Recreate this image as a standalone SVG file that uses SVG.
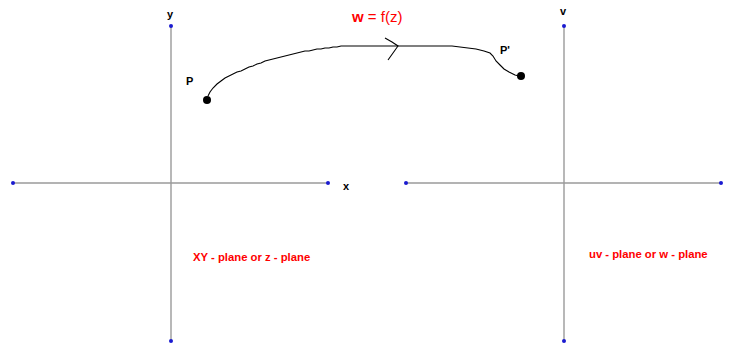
<svg xmlns="http://www.w3.org/2000/svg" width="729" height="344" viewBox="0 0 729 344">
<style>
.axis{stroke:#9a9a9a;stroke-width:1.4;fill:none}
.end{fill:#1a1ad0}
.lbl{font-family:"Liberation Sans",Arial,sans-serif;font-weight:bold;font-size:11px;fill:#000}
.red{font-family:"Liberation Sans",Arial,sans-serif;font-weight:bold;font-size:11.3px;fill:#ff0000}
.curve{stroke:#000;stroke-width:1.1;fill:none}
</style>
<rect width="729" height="344" fill="#fff"/>
<g id="z-plane">
<line class="axis" x1="13" y1="183" x2="328" y2="183"/>
<line class="axis" x1="171" y1="26" x2="171" y2="341"/>
<circle class="end" cx="13" cy="183" r="2"/>
<circle class="end" cx="328" cy="183" r="2"/>
<circle class="end" cx="171" cy="26" r="2"/>
<circle class="end" cx="171" cy="341" r="2"/>
<text class="lbl" x="167" y="18">y</text>
<text class="lbl" x="343" y="190">x</text>
<text class="red" x="193" y="261">XY - plane or z - plane</text>
</g>
<g id="w-plane">
<line class="axis" x1="406" y1="183" x2="721" y2="183"/>
<line class="axis" x1="564" y1="26" x2="564" y2="341"/>
<circle class="end" cx="406" cy="183" r="2"/>
<circle class="end" cx="721" cy="183" r="2"/>
<circle class="end" cx="564" cy="26" r="2"/>
<circle class="end" cx="564" cy="341" r="2"/>
<text class="lbl" x="560" y="15">v</text>
<text class="red" x="589" y="258">uv - plane or w - plane</text>
</g>
<g id="P">
<circle cx="207" cy="100" r="4" fill="#000"/>
<text class="lbl" x="186" y="85">P</text>
</g>
<g id="P-prime">
<circle cx="521" cy="76" r="4" fill="#000"/>
<text class="lbl" x="500" y="54">P'</text>
</g>
<g id="title">
<text x="352" y="22" font-family="'Liberation Sans',Arial,sans-serif" font-size="15" fill="#ff0000"><tspan font-weight="bold">w</tspan> = f(z)</text>
</g>
<g id="connectors">
<path class="curve" d="M208,96 L210,92 L213,88 L217,84 L221,81 L225,78 L229,76 L233,74 L237,72 L241,71 L245,69 L249,67 L253,66 L257,64 L261,63 L265,61 L269,60 L273,59 L277,58 L281,57 L285,56 L289,55 L293,54 L297,53 L301,52 L305,51 L309,51 L313,50 L317,49 L321,49 L325,48 L329,48 L333,47 L337,47 L341,46 L350,46 L398,46"/>
<path class="curve" d="M398,46 L452,46 L460,47 L468,48 L476,49 L484,51 L490,53 L493,56 L496,61 L500,65 L504,69 L509,72 L515,75 L519,76"/>
<path class="curve" d="M385,38 L392,42 L398,46 L393,53 L388,60"/>
</g>
</svg>
